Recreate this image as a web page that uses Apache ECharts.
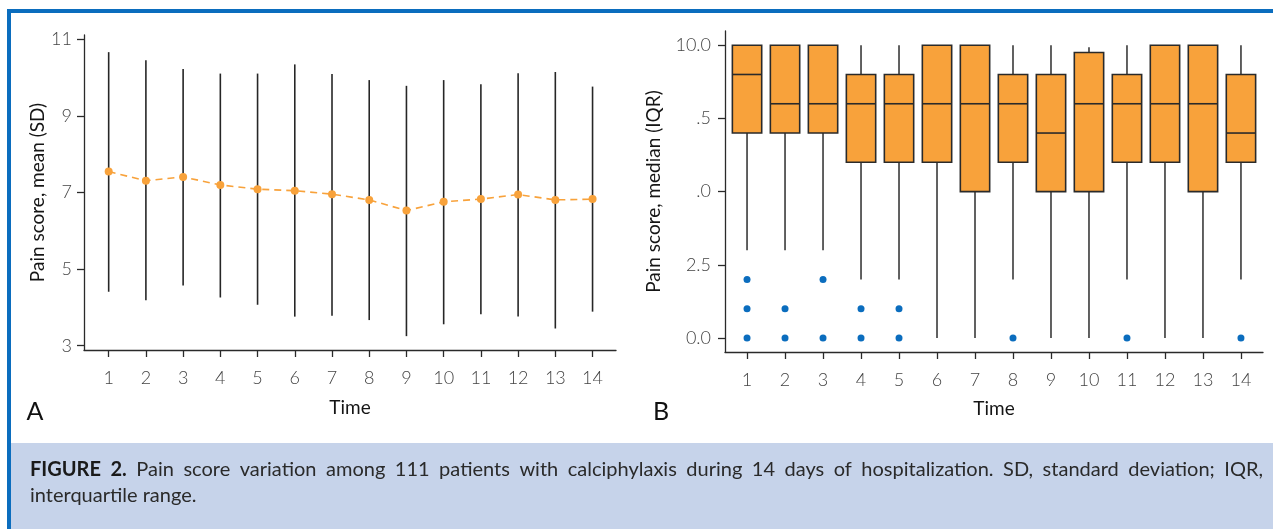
<!DOCTYPE html>
<html><head><meta charset="utf-8">
<script src="https://cdn.jsdelivr.net/npm/echarts@6/dist/echarts.min.js"></script>
<style>html,body{margin:0;padding:0;background:#fff}#c{width:1273px;height:529px}</style>
</head><body><div id="c"></div>
<script>
// ---- Data ----
const days = [1,2,3,4,5,6,7,8,9,10,11,12,13,14];
// Panel A: mean and mean±SD
const meanScore = [7.55,7.31,7.41,7.20,7.09,7.05,6.96,6.81,6.53,6.76,6.83,6.95,6.81,6.83];
const sdUpper   = [10.67,10.46,10.23,10.11,10.11,10.35,10.10,9.94,9.79,9.94,9.83,10.12,10.15,9.77];
const sdLower   = [4.41,4.19,4.57,4.26,4.07,3.76,3.78,3.67,3.25,3.56,3.82,3.76,3.45,3.89];
// Panel B: box plot statistics
const boxMin    = [3,3,3,2,2,0,0,2,0,0,2,0,0,2];
const boxQ1     = [7,7,7,6,6,6,5,6,5,5,6,6,5,6];
const boxMedian = [9,8,8,8,8,8,8,8,7,8,8,8,8,7];
const boxQ3     = [10,10,10,9,9,10,10,9,9,9.75,9,10,10,9];
const boxMax    = [10,10,10,10,10,10,10,10,10,9.93,10,10,10,10];
const outlierDay   = [1,1,1,2,2,3,3,4,4,5,5,8,11,14];
const outlierScore = [2,1,0,1,0,2,0,1,0,1,0,0,0,0];
// Tick labels
const leftYTicks = [3,5,7,9,11];
const rightYTicks = [0,2.5,5,7.5,10];
const rightYTickLabels = ['0.0','2.5','.0','.5','10.0'];
const xTickLabels = ['1','2','3','4','5','6','7','8','9','10','11','12','13','14'];
const captionBold = 'FIGURE 2.';
const captionLine1 = 'Pain score variation among 111 patients with calciphylaxis during 14 days of hospitalization. SD, standard deviation; IQR,';
const captionLine2 = 'interquartile range.';

// ---- Build ----
const FONT = 'Lato, "Open Sans", sans-serif';
const ORANGE = '#F8A23B';
const BLUE = '#0B6DBE';
const AXIS = '#2a2a2a';

const errData = days.map((d,i)=>[d, sdLower[i], sdUpper[i]]);
const meanData = days.map((d,i)=>[d, meanScore[i]]);
const boxData = days.map((d,i)=>[d, boxMin[i], boxQ1[i], boxMedian[i], boxQ3[i], boxMax[i]]);
const outData = outlierDay.map((d,i)=>[d, outlierScore[i]]);

function xAxisCfg(gridIndex, min, max, nameGap){
  return {
    type:'value', gridIndex, min, max,
    name:'Time', nameLocation:'middle', nameGap,
    nameTextStyle:{fontFamily:FONT, fontSize:19, color:'#151515'},
    axisLine:{show:true, onZero:false, lineStyle:{color:AXIS, width:1.3}},
    axisTick:{show:true, length:7, lineStyle:{color:AXIS, width:1.3}, customValues: days},
    axisLabel:{customValues: days, margin:19, fontFamily:FONT, fontWeight:300, fontSize:18, color:'#444',
      formatter:(v)=>xTickLabels[days.indexOf(v)] ?? ''},
    splitLine:{show:false}
  };
}

// justified caption line: words placed through measured widths
function justifiedLine(segments, x0, y, width){
  const ctx = document.createElement('canvas').getContext('2d');
  const words = [];
  segments.forEach(seg => seg.text.split(' ').filter(w=>w.length).forEach(w => words.push({w, s:seg})));
  let total = 0;
  words.forEach(o => {
    ctx.font = (o.s.fontWeight||'normal') + ' ' + o.s.fontSize + 'px ' + FONT;
    o.width = ctx.measureText(o.w).width; total += o.width;
  });
  const gap = (width - total) / (words.length - 1);
  let x = x0;
  return words.map(o => {
    const el = {type:'text', x, y, z:10, style:{text:o.w, fontFamily:FONT, fontSize:o.s.fontSize,
      fontWeight:o.s.fontWeight||'normal', fill:o.s.fill, verticalAlign:'middle'}};
    x += o.width + gap; return el;
  });
}
const capBoldStyle = {fontSize:20, fontWeight:'bold', fill:'#1a1a1a'};
const capStyle = {fontSize:20, fontWeight:'normal', fill:'#2a2a2a'};
const captionEls = justifiedLine([
  Object.assign({text:captionBold}, capBoldStyle),
  Object.assign({text:captionLine1}, capStyle)
], 30, 470, 1233);

const option = {
  animation:false,
  backgroundColor:'#ffffff',
  grid:[
    {left:84, top:35, width:532, height:315, containLabel:false, outerBoundsMode:'none'},
    {left:725, top:31, width:538, height:321, containLabel:false, outerBoundsMode:'none'}
  ],
  xAxis:[ xAxisCfg(0, 0.337, 14.63, 48), xAxisCfg(1, 0.42, 14.58, 47) ],
  yAxis:[
    { type:'value', gridIndex:0, min:2.888, max:11.118,
      name:'Pain score, mean (SD)', nameLocation:'middle', nameGap:37, nameRotate:90,
      nameTextStyle:{fontFamily:FONT, fontSize:19, color:'#151515'},
      axisLine:{show:true, onZero:false, lineStyle:{color:AXIS, width:1.3}},
      axisTick:{show:true, length:7, customValues:leftYTicks, lineStyle:{color:AXIS, width:1.3}},
      axisLabel:{customValues:leftYTicks, margin:12, fontFamily:FONT, fontWeight:300, fontSize:18, color:'#444'},
      splitLine:{show:false}
    },
    { type:'value', gridIndex:1, min:-0.478, max:10.485,
      name:'Pain score, median (IQR)', nameLocation:'middle', nameGap:62, nameRotate:90,
      nameTextStyle:{fontFamily:FONT, fontSize:19, color:'#151515'},
      axisLine:{show:true, onZero:false, lineStyle:{color:AXIS, width:1.3}},
      axisTick:{show:true, length:7, customValues:rightYTicks, lineStyle:{color:AXIS, width:1.3}},
      axisLabel:{customValues:rightYTicks, margin:14, fontFamily:FONT, fontWeight:300, fontSize:18, color:'#444',
        formatter:(v)=>{ const k = rightYTicks.findIndex(t=>Math.abs(t-v)<1e-6); return k>=0 ? rightYTickLabels[k] : ''; }},
      splitLine:{show:false}
    }
  ],
  series:[
    { type:'custom', name:'SD', xAxisIndex:0, yAxisIndex:0, data:errData,
      encode:{x:0, y:[1,2]}, silent:true, z:2,
      renderItem:(params, api)=>{
        const lo = api.coord([api.value(0), api.value(1)]);
        const hi = api.coord([api.value(0), api.value(2)]);
        return {type:'line', shape:{x1:lo[0], y1:lo[1], x2:hi[0], y2:hi[1]},
          style:{stroke:'#262626', lineWidth:1.6}};
      }
    },
    { type:'line', name:'Mean', xAxisIndex:0, yAxisIndex:0, data:meanData, z:5,
      symbol:'circle', symbolSize:8,
      itemStyle:{color:ORANGE, opacity:1},
      lineStyle:{color:ORANGE, width:1.6, type:[7,5]}
    },
    { type:'custom', name:'Box', xAxisIndex:1, yAxisIndex:1, data:boxData,
      encode:{x:0, y:[1,2,3,4,5]}, silent:true, z:2,
      renderItem:(params, api)=>{
        const x = api.value(0);
        const pMin = api.coord([x, api.value(1)]);
        const pQ1 = api.coord([x, api.value(2)]);
        const pMed = api.coord([x, api.value(3)]);
        const pQ3 = api.coord([x, api.value(4)]);
        const pMax = api.coord([x, api.value(5)]);
        const halfW = api.size([0.772, 0])[0] / 2;
        const cx = pMed[0];
        return {type:'group', children:[
          {type:'line', shape:{x1:cx, y1:pQ1[1], x2:cx, y2:pMin[1]}, style:{stroke:'#3a3a3a', lineWidth:1.6}},
          {type:'line', shape:{x1:cx, y1:pQ3[1], x2:cx, y2:pMax[1]}, style:{stroke:'#3a3a3a', lineWidth:1.6}},
          {type:'rect', shape:{x:cx-halfW, y:pQ3[1], width:2*halfW, height:pQ1[1]-pQ3[1]},
            style:{fill:ORANGE, stroke:'#2a2a2a', lineWidth:1.6}},
          {type:'line', shape:{x1:cx-halfW, y1:pMed[1], x2:cx+halfW, y2:pMed[1]}, style:{stroke:'#2a2a2a', lineWidth:1.6}}
        ]};
      }
    },
    { type:'scatter', name:'Outliers', xAxisIndex:1, yAxisIndex:1, data:outData, z:5,
      symbol:'circle', symbolSize:7, itemStyle:{color:BLUE, opacity:1}
    }
  ],
  graphic:[
    {type:'rect', shape:{x:7, y:9, width:1266, height:4}, style:{fill:'#0B6DBE'}, z:10},
    {type:'rect', shape:{x:7, y:9, width:4, height:520}, style:{fill:'#0B6DBE'}, z:10},
    {type:'rect', shape:{x:11, y:443, width:1262, height:86}, style:{fill:'#C6D3EA'}, z:1},
    {type:'text', x:35, y:412, style:{text:'A', fontFamily:FONT, fontSize:25, fill:'#111', align:'center', verticalAlign:'middle'}, z:10},
    {type:'text', x:661, y:412, style:{text:'B', fontFamily:FONT, fontSize:25, fill:'#111', align:'center', verticalAlign:'middle'}, z:10},
    ...captionEls,
    {type:'text', x:30, y:496, z:10, style:{text:captionLine2, fontFamily:FONT, fontSize:20, fill:'#2a2a2a', verticalAlign:'middle'}}
  ]
};
const chart = echarts.init(document.getElementById('c'), null, {renderer:'canvas'});
chart.setOption(option);
</script>
</body></html>
